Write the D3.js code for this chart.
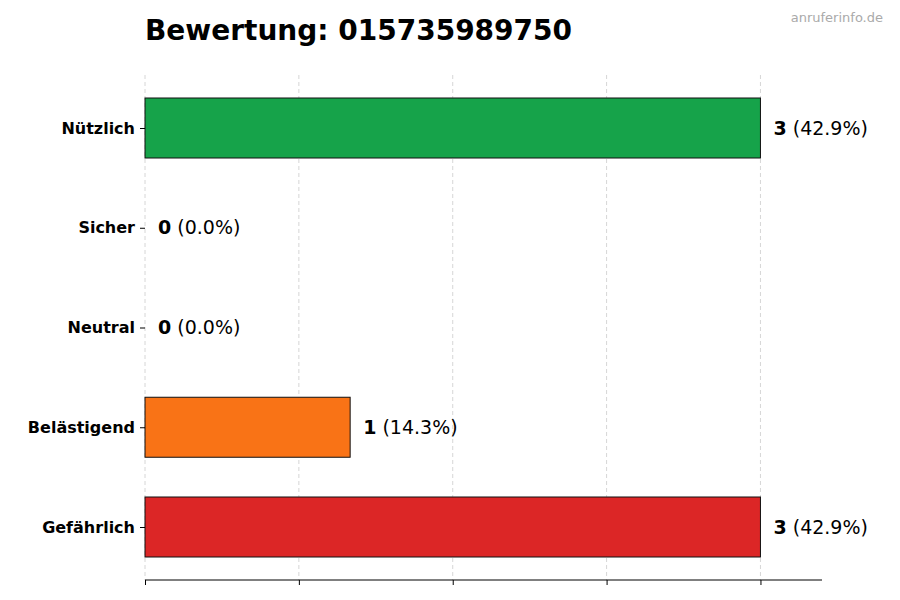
<!DOCTYPE html>
<html><head><meta charset="utf-8">
<script src="https://cdn.jsdelivr.net/npm/d3@7"></script>
<style>body{margin:0;background:#fff;font-family:"DejaVu Sans",sans-serif;}</style>
</head><body><svg id="chart" width="900" height="600"></svg>
<script>
var categories = ["Nützlich", "Sicher", "Neutral", "Belästigend", "Gefährlich"];
var counts = [3, 0, 0, 1, 3];
var colors = ["#16a34a", "#22c55e", "#9ca3af", "#f97316", "#dc2626"];
var ticks = [0, 0.75, 1.5, 2.25, 3];
var total = d3.sum(counts);

var svg = d3.select("#chart");
var x = d3.scaleLinear().domain([0, 3.3]).range([145, 822]);
var y = d3.scalePoint().domain(categories).range([128, 527]);
var barH = 60;

// grid
svg.selectAll(".grid").data(ticks).enter().append("line")
    .attr("x1", function(d) { return x(d); }).attr("x2", function(d) { return x(d); })
    .attr("y1", 75).attr("y2", 580)
    .attr("stroke", "#ccc").attr("stroke-dasharray", "4,3").attr("stroke-width", 0.8);

// bars
svg.selectAll(".bar").data(categories).enter().append("rect")
    .attr("x", x(0))
    .attr("y", function(d) { return y(d) - barH / 2; })
    .attr("width", function(d, i) { return x(counts[i]) - x(0); })
    .attr("height", barH)
    .attr("fill", function(d, i) { return colors[i]; })
    .attr("stroke", "#111").attr("stroke-width", 1);

// value labels
var lab = svg.selectAll(".val").data(categories).enter().append("text")
    .attr("x", function(d, i) { return x(counts[i]) + 13; })
    .attr("y", function(d) { return y(d); })
    .attr("dy", "0.35em").style("font-size", "19px");
lab.append("tspan").style("font-weight", "bold").text(function(d, i) { return counts[i]; });
lab.append("tspan").text(function(d, i) { return " (" + (counts[i] / total * 100).toFixed(1) + "%)"; });

// y axis
var yAxis = svg.append("g").attr("transform", "translate(145,0)")
    .call(d3.axisLeft(y).tickSize(5).tickPadding(5));
yAxis.select(".domain").remove();
yAxis.selectAll("text").style("font-size", "16px").style("font-weight", "bold")
    .style("font-family", "DejaVu Sans").attr("fill", "#000");

// x axis
var xAxis = svg.append("g").attr("transform", "translate(0,580)")
    .call(d3.axisBottom(x).tickValues(ticks).tickSize(5).tickFormat(""));
xAxis.select(".domain").attr("d", "M145,0H822");

svg.append("text").attr("x", 145).attr("y", 40)
    .style("font-size", "28px").style("font-weight", "bold")
    .text("Bewertung: 015735989750");
svg.append("text").attr("x", 883).attr("y", 22).attr("text-anchor", "end")
    .style("font-size", "13px").attr("fill", "#aaa").text("anruferinfo.de");
</script></body></html>
